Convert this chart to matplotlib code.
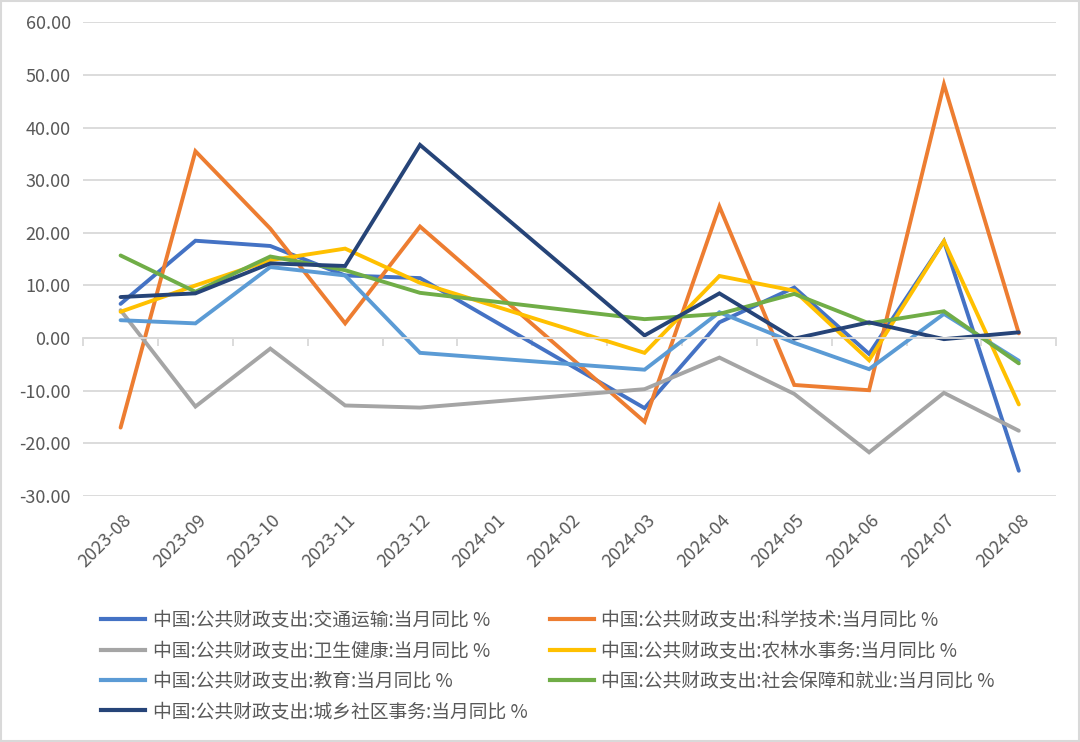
import numpy as np
import matplotlib
matplotlib.use("Agg")
import matplotlib.pyplot as plt
from matplotlib.patches import Rectangle
from matplotlib.lines import Line2D

plt.rcParams['font.family'] = ['Noto Sans CJK SC', 'DejaVu Sans']

months = ["2023-08", "2023-09", "2023-10", "2023-11", "2023-12", "2024-01", "2024-02",
          "2024-03", "2024-04", "2024-05", "2024-06", "2024-07", "2024-08"]
nan = np.nan

# 当月同比 %，2024-01/02 无数据
transport = [6.5, 18.5, 17.5, 11.9, 11.4, nan, nan, -13.3, 3.0, 9.6, -3.0, 18.4, -25.2]
science   = [-17.0, 35.5, 20.8, 2.8, 21.2, nan, nan, -15.9, 25.0, -8.9, -9.9, 48.2, 0.9]
health    = [5.3, -13.0, -2.0, -12.8, -13.2, nan, nan, -9.7, -3.7, -10.6, -21.7, -10.4, -17.6]
agri      = [5.0, 10.0, 14.8, 17.0, 10.5, nan, nan, -2.8, 11.8, 9.0, -4.2, 18.4, -12.6]
education = [3.4, 2.8, 13.5, 11.9, -2.8, nan, nan, -6.0, 4.9, -0.9, -5.9, 4.6, -4.3]
social    = [15.7, 8.8, 15.5, 12.9, 8.6, nan, nan, 3.6, 4.6, 8.4, 2.8, 5.1, -4.8]
urban     = [7.8, 8.5, 14.2, 13.7, 36.7, nan, nan, 0.5, 8.5, -0.1, 3.0, -0.2, 1.1]

series = [
    ("中国:公共财政支出:交通运输:当月同比 %", transport, "#4472C4"),
    ("中国:公共财政支出:科学技术:当月同比 %", science, "#ED7D31"),
    ("中国:公共财政支出:卫生健康:当月同比 %", health, "#A5A5A5"),
    ("中国:公共财政支出:农林水事务:当月同比 %", agri, "#FFC000"),
    ("中国:公共财政支出:教育:当月同比 %", education, "#5B9BD5"),
    ("中国:公共财政支出:社会保障和就业:当月同比 %", social, "#70AD47"),
    ("中国:公共财政支出:城乡社区事务:当月同比 %", urban, "#264478"),
]

fig = plt.figure(figsize=(10.8, 7.42), dpi=100)
ax = fig.add_axes([0.077, 0.3315, 0.901, 0.6385])

x = np.arange(len(months))
handles = []
for label, vals, color in series:
    v = np.array(vals, dtype=float)
    m = ~np.isnan(v)
    ax.plot(x[m], v[m], color=color, lw=2.8, solid_joinstyle='miter', solid_capstyle='round')
    handles.append(Line2D([], [], color=color, lw=3.0, label=label))

ax.set_xlim(-0.5, len(months) - 0.5)
ax.set_ylim(-30, 60)
ax.set_yticks(np.arange(-30, 61, 10))
ax.set_yticklabels(["%.2f" % t for t in np.arange(-30, 61, 10)])
ax.tick_params(axis='y', length=0, labelsize=13, labelcolor='#595959', pad=9)
ax.grid(axis='y', color='#D9D9D9', lw=1.3)
ax.set_axisbelow(True)

for s in ['top', 'right', 'left']:
    ax.spines[s].set_visible(False)
ax.spines['bottom'].set_position(('data', 0))
ax.spines['bottom'].set_color('#D9D9D9')
ax.spines['bottom'].set_linewidth(1.3)
ax.set_xticks(np.arange(-0.5, len(months), 1.0))
ax.set_xticklabels([])
ax.tick_params(axis='x', length=6, width=1.3, color='#D9D9D9', direction='out')

for i, m in enumerate(months):
    ax.text(i + 0.02, -32.8, m, rotation=45, ha='right', va='top',
            fontsize=13, color='#595959', rotation_mode='anchor')

# 图例按行排列：重新排序以配合列优先填充
order = [0, 2, 4, 6, 1, 3, 5]
leg = fig.legend([handles[i] for i in order], [handles[i].get_label() for i in order],
                 ncol=2, loc='upper left', bbox_to_anchor=(0.078, 0.201),
                 frameon=False, fontsize=13.5, labelcolor='#595959',
                 handlelength=2.35, handletextpad=0.4, labelspacing=0.5,
                 columnspacing=1.2)

fig.patches.append(Rectangle((0.001, 0.001), 0.998, 0.998, transform=fig.transFigure,
                             fill=False, edgecolor='#D9D9D9', lw=1.5))

fig.savefig("out.png", dpi=100)
